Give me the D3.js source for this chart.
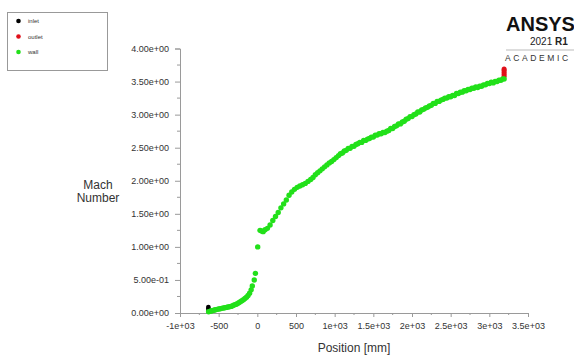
<!DOCTYPE html>
<html>
<head>
<meta charset="utf-8">
<script src="https://cdn.jsdelivr.net/npm/d3@7"></script>
<style>
  html, body { margin: 0; padding: 0; background: #fff; }
  svg { display: block; font-family: "Liberation Sans", Arial, sans-serif; }
</style>
</head>
<body>
<svg id="chart" width="574" height="358"></svg>
<script>
// Mach number along the nozzle: position [mm] and value per zone
const inletPos = [-633, -633, -633];
const inletMach = [0.04, 0.07, 0.09];

const outletPos = [3191, 3191, 3191, 3191, 3191];
const outletMach = [3.58, 3.61, 3.64, 3.67, 3.69];

const wallPos = [
  -630, -615, -600, -585, -570, -555, -540, -520, -500, -480,
  -460, -440, -420, -400, -380, -360, -340, -320, -300, -280,
  -260, -240, -220, -200, -180, -160, -140, -120, -100, -80,
  -65, -40, -25, 5, 35, 55, 75, 100, 130, 165,
  200, 235, 270, 305, 340, 375, 410, 445, 480, 515,
  550, 585, 620, 655, 690, 720, 750, 780, 810, 840,
  870, 900, 930, 960, 990, 1020, 1050, 1075, 1100, 1125,
  1150, 1175, 1200, 1225, 1250, 1275, 1300, 1325, 1350, 1375,
  1400, 1425, 1450, 1475, 1500, 1525, 1550, 1575, 1600, 1625,
  1650, 1675, 1700, 1725, 1750, 1775, 1800, 1825, 1850, 1875,
  1900, 1925, 1950, 1975, 2000, 2025, 2050, 2075, 2100, 2125,
  2150, 2175, 2200, 2225, 2250, 2275, 2300, 2325, 2350, 2375,
  2400, 2425, 2450, 2475, 2500, 2525, 2550, 2575, 2600, 2625,
  2650, 2675, 2700, 2725, 2750, 2775, 2800, 2825, 2850, 2875,
  2900, 2925, 2950, 2975, 3000, 3025, 3050, 3075, 3100, 3125,
  3150, 3175, 3191
];
const wallMach = [
  0.02, 0.025, 0.03, 0.035, 0.04, 0.045, 0.05, 0.055, 0.06, 0.065,
  0.07, 0.075, 0.08, 0.085, 0.09, 0.095, 0.10, 0.11, 0.12, 0.13,
  0.14, 0.155, 0.17, 0.185, 0.20, 0.22, 0.24, 0.265, 0.30, 0.35,
  0.41, 0.50, 0.60, 1.00, 1.25, 1.24, 1.23, 1.26, 1.28, 1.33,
  1.40, 1.46, 1.52, 1.59, 1.65, 1.71, 1.78, 1.83, 1.87, 1.90,
  1.92, 1.94, 1.96, 1.99, 2.02, 2.05, 2.09, 2.12, 2.15, 2.18,
  2.21, 2.24, 2.27, 2.29, 2.32, 2.35, 2.38, 2.41, 2.42, 2.45,
  2.46, 2.49, 2.49, 2.52, 2.52, 2.55, 2.56, 2.58, 2.58, 2.61,
  2.61, 2.63, 2.64, 2.66, 2.66, 2.69, 2.69, 2.71, 2.71, 2.73,
  2.73, 2.75, 2.76, 2.79, 2.79, 2.82, 2.83, 2.86, 2.86, 2.89,
  2.90, 2.93, 2.94, 2.97, 2.97, 3.00, 3.01, 3.04, 3.04, 3.07,
  3.08, 3.10, 3.11, 3.13, 3.14, 3.17, 3.17, 3.20, 3.20, 3.22,
  3.23, 3.25, 3.25, 3.27, 3.27, 3.29, 3.29, 3.32, 3.32, 3.34,
  3.34, 3.36, 3.36, 3.38, 3.38, 3.40, 3.40, 3.42, 3.41, 3.43,
  3.43, 3.45, 3.45, 3.47, 3.47, 3.49, 3.48, 3.50, 3.50, 3.52,
  3.52, 3.54, 3.54
];

const xTicks = [-1000, -500, 0, 500, 1000, 1500, 2000, 2500, 3000, 3500];
const xTickLabels = ["-1e+03", "-500", "0", "500", "1e+03", "1.5e+03", "2e+03", "2.5e+03", "3e+03", "3.5e+03"];
const xMinorTicks = [-750, -250, 250, 750, 1250, 1750, 2250, 2750, 3250];
const yTicks = [0, 0.5, 1, 1.5, 2, 2.5, 3, 3.5, 4];
const yTickLabels = ["0.00e+00", "5.00e-01", "1.00e+00", "1.50e+00", "2.00e+00", "2.50e+00", "3.00e+00", "3.50e+00", "4.00e+00"];
const yMinorTicks = [0.25, 0.75, 1.25, 1.75, 2.25, 2.75, 3.25, 3.75];

const legendNames = ["inlet", "outlet", "wall"];
const legendColors = ["#000000", "#e0101a", "#22e01a"];

const svg = d3.select("#chart");

const x = d3.scaleLinear().domain([-1000, 3500]).range([180, 528]);
const y = d3.scaleLinear().domain([0, 4]).range([313, 48.5]);

const axisColor = "#9a9a9a";
const textColor = "#333";

// X axis
const xAxis = svg.append("g").attr("transform", `translate(0,${y(0)})`)
  .call(d3.axisBottom(x).tickValues(xTicks).tickSize(4).tickPadding(6)
    .tickFormat((d, i) => xTickLabels[i]));
xAxis.append("g").selectAll("line").data(xMinorTicks).join("line")
  .attr("x1", d => x(d)).attr("x2", d => x(d)).attr("y1", 0).attr("y2", 2);

// Y axis
const yAxis = svg.append("g").attr("transform", `translate(${x(-1000)},0)`)
  .call(d3.axisLeft(y).tickValues(yTicks).tickSize(5).tickPadding(6)
    .tickFormat((d, i) => yTickLabels[i]));
yAxis.append("g").selectAll("line").data(yMinorTicks).join("line")
  .attr("y1", d => y(d)).attr("y2", d => y(d)).attr("x1", 0).attr("x2", -3);

[xAxis, yAxis].forEach(g => {
  g.select(".domain").attr("stroke", axisColor).attr("stroke-width", 1);
  g.selectAll("line").attr("stroke", axisColor);
  g.selectAll("text").attr("fill", textColor).attr("font-size", 9)
    .attr("font-family", "Liberation Sans, Arial, sans-serif");
});

// Axis titles
svg.append("text").attr("x", x(1250)).attr("y", 352).attr("text-anchor", "middle")
  .attr("font-size", 12).attr("fill", textColor).text("Position [mm]");
const yTitle = svg.append("text").attr("text-anchor", "middle")
  .attr("font-size", 12).attr("fill", textColor);
yTitle.append("tspan").attr("x", 98).attr("y", 189).text("Mach");
yTitle.append("tspan").attr("x", 98).attr("y", 202).text("Number");

// Data points
const pts = svg.append("g");
function drawSeries(xs, ys, color, r) {
  pts.append("g").selectAll("circle").data(xs.map((d, i) => [d, ys[i]])).join("circle")
    .attr("cx", d => x(d[0])).attr("cy", d => y(d[1])).attr("r", r).attr("fill", color);
}
drawSeries(inletPos, inletMach, legendColors[0], 2.3);
drawSeries(outletPos, outletMach, legendColors[1], 2.5);
drawSeries(wallPos, wallMach, legendColors[2], 2.7);

// Legend
const lg = svg.append("g");
lg.append("rect").attr("x", 7.5).attr("y", 12.5).attr("width", 100).attr("height", 58)
  .attr("fill", "#fff").attr("stroke", "#999");
legendNames.forEach((name, i) => {
  const cy = 21 + i * 15.5;
  lg.append("circle").attr("cx", 18.5).attr("cy", cy).attr("r", 2.3).attr("fill", legendColors[i]);
  lg.append("text").attr("x", 28).attr("y", cy + 2).attr("font-size", 6)
    .attr("fill", textColor).text(name);
});

// Product badge
const badge = svg.append("g");
badge.append("text").attr("x", 506).attr("y", 31).attr("font-size", 20)
  .attr("font-weight", "bold").attr("fill", "#111").text("ANSYS");
const rel = badge.append("text").attr("x", 530).attr("y", 45).attr("font-size", 10).attr("fill", "#222");
rel.append("tspan").text("2021 ");
rel.append("tspan").attr("font-weight", "bold").text("R1");
badge.append("line").attr("x1", 506).attr("x2", 574).attr("y1", 50).attr("y2", 50)
  .attr("stroke", "#aaa").attr("stroke-width", 0.8);
badge.append("text").attr("x", 505).attr("y", 61).attr("font-size", 8.5)
  .attr("letter-spacing", 2.6).attr("fill", "#333").text("ACADEMIC");
</script>
</body>
</html>
